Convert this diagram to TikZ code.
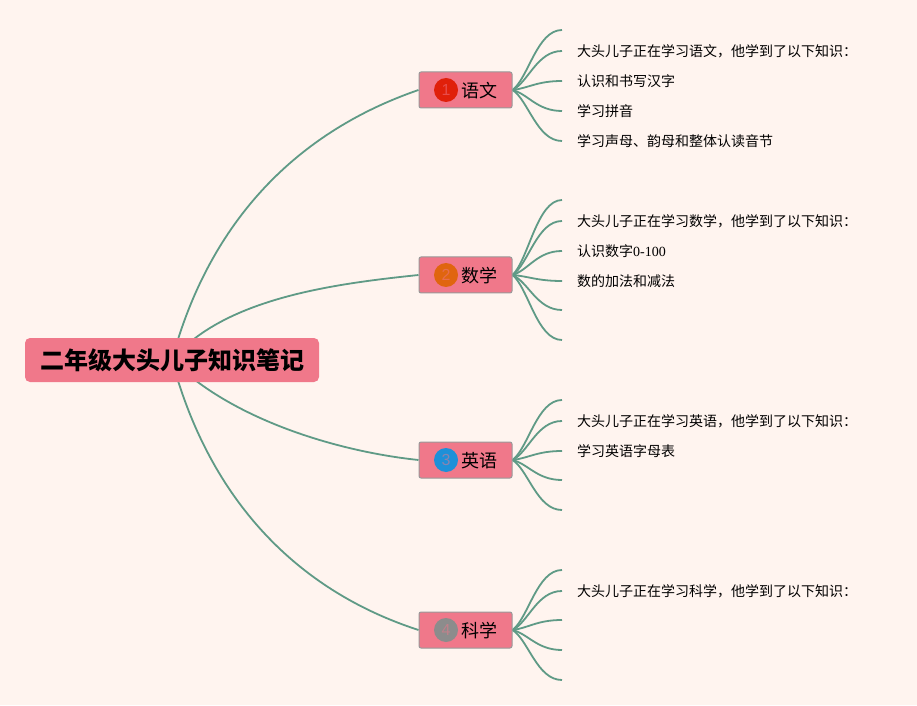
\documentclass[tikz,border=0pt]{standalone}
\usepackage{fontspec}
\setmainfont{Liberation Serif}
\newfontfamily\cjk{Noto Sans CJK SC}
\newfontfamily\numfont{Liberation Sans}
\usetikzlibrary{backgrounds,calc}
\definecolor{paper}{HTML}{FFF4EF}
\definecolor{rosefill}{HTML}{F0788A}
\definecolor{branchgreen}{HTML}{5F9A86}
\definecolor{edgegray}{HTML}{999999}
\definecolor{badgered}{HTML}{E0200A}
\definecolor{badgeorange}{HTML}{E0650F}
\definecolor{badgeblue}{HTML}{1E90D8}
\definecolor{badgegray}{HTML}{8C8C8C}
\tikzset{
  rootbox/.style={fill=rosefill,rounded corners=5pt,minimum width=294pt,minimum height=44pt,inner sep=0pt,font=\cjk\bfseries\fontsize{24}{26}\selectfont},
  topicbox/.style={draw=edgegray,line width=1pt,fill=rosefill,rounded corners=2pt,minimum width=93pt,minimum height=36pt,inner sep=0pt},
  topictext/.style={inner sep=0pt,font=\cjk\fontsize{18}{20}\selectfont},
  badge/.style={circle,minimum size=24pt,inner sep=0pt,fill=#1,text=#1!50!rosefill,font=\numfont\fontsize{16}{18}\selectfont},
  leaf/.style={anchor=west,inner xsep=15pt,inner ysep=0pt,font=\cjk\fontsize{14}{16}\selectfont},
  mainline/.style={draw=branchgreen,line width=1.8pt},
  subline/.style={draw=branchgreen,line width=1.8pt},
}
\newcommand{\leafline}[2]{\draw[subline] (#1) .. controls ($(#1)!0.2!(#2)+(6,0)$) and ($(#2)+(-25,0)$) .. (#2);}
\begin{document}
\begin{tikzpicture}[x=1pt,y=1pt]
% Root
\node[rootbox] (root) at (172,345) {二年级大头儿子知识笔记};

% Topic boxes with their number badges
\node[topicbox] (yuwen) at (465.5,615) {};
\node[badge=badgered] (badgea) at (446,615) {1};
\node[topictext] (texta) at (479,614) {语文};
\node[topicbox] (shuxue) at (465.5,430) {};
\node[badge=badgeorange] (badgeb) at (446,430) {2};
\node[topictext] (textb) at (479,429) {数学};
\node[topicbox] (yingyu) at (465.5,245) {};
\node[badge=badgeblue] (badgec) at (446,245) {3};
\node[topictext] (textc) at (479,244) {英语};
\node[topicbox] (kexue) at (465.5,75) {};
\node[badge=badgegray] (badged) at (446,75) {4};
\node[topictext] (textd) at (479,74) {科学};

% Leaves of the first topic
\coordinate (ya) at (562,675);
\node[leaf] (yb) at (562,654) {大头儿子正在学习语文，他学到了以下知识：};
\node[leaf] (yc) at (562,624) {认识和书写汉字};
\node[leaf] (yd) at (562,594) {学习拼音};
\node[leaf] (ye) at (562,564) {学习声母、韵母和整体认读音节};

% Leaves of the second topic
\coordinate (sa) at (562,505);
\node[leaf] (sb) at (562,484) {大头儿子正在学习数学，他学到了以下知识：};
\node[leaf] (sc) at (562,454) {认识数字{\normalfont 0-100}};
\node[leaf] (sd) at (562,424) {数的加法和减法};
\coordinate (se) at (562,395);
\coordinate (sf) at (562,365);

% Leaves of the third topic
\coordinate (ea) at (562,305);
\node[leaf] (eb) at (562,284) {大头儿子正在学习英语，他学到了以下知识：};
\node[leaf] (ec) at (562,254) {学习英语字母表};
\coordinate (ed) at (562,225);
\coordinate (ee) at (562,195);

% Leaves of the fourth topic
\coordinate (ka) at (562,135);
\node[leaf] (kb) at (562,114) {大头儿子正在学习科学，他学到了以下知识：};
\coordinate (kc) at (562,85);
\coordinate (kd) at (562,55);
\coordinate (ke) at (562,25);

\begin{scope}[on background layer]
\fill[paper] (0,0) rectangle (917,705);

% Root to topics
\draw[mainline] (root.center) to [out=75,in=199,looseness=0.95] (yuwen.west);
\draw[mainline] (root.center) to [out=50,in=186,looseness=0.8] (shuxue.west);
\draw[mainline] (root.center) to [out=-45,in=174,looseness=0.8] (yingyu.west);
\draw[mainline] (root.center) to [out=-75,in=162,looseness=0.95] (kexue.west);

% Topic one
\leafline{yuwen.east}{ya}
\leafline{yuwen.east}{yb.west}
\leafline{yuwen.east}{yc.west}
\leafline{yuwen.east}{yd.west}
\leafline{yuwen.east}{ye.west}

% Topic two
\leafline{shuxue.east}{sa}
\leafline{shuxue.east}{sb.west}
\leafline{shuxue.east}{sc.west}
\leafline{shuxue.east}{sd.west}
\leafline{shuxue.east}{se}
\leafline{shuxue.east}{sf}

% Topic three
\leafline{yingyu.east}{ea}
\leafline{yingyu.east}{eb.west}
\leafline{yingyu.east}{ec.west}
\leafline{yingyu.east}{ed}
\leafline{yingyu.east}{ee}

% Topic four
\leafline{kexue.east}{ka}
\leafline{kexue.east}{kb.west}
\leafline{kexue.east}{kc}
\leafline{kexue.east}{kd}
\leafline{kexue.east}{ke}
\end{scope}
\end{tikzpicture}
\end{document}
